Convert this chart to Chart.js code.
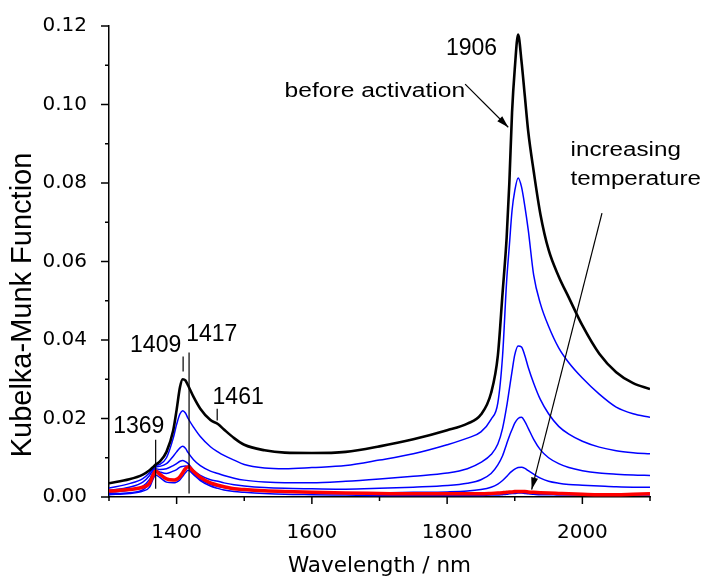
<!DOCTYPE html>
<html>
<head>
  <meta charset="UTF-8">
  <title>Kubelka-Munk</title>
  <script src="https://cdn.jsdelivr.net/npm/chart.js"></script>
  <style>
    body { margin: 0; background: #fff; }
    canvas { display: block; }
  </style>
</head>
<body>
  <canvas id="km" width="704" height="579"></canvas>

  <script>
    // wavelength grid (nm), denser round the peaks
    const wavelength = [1300, 1330, 1350, 1360, 1365, 1369, 1375, 1385, 1395, 1400,
      1405, 1409, 1413, 1417, 1425, 1435, 1450, 1461, 1470, 1485,
      1500, 1530, 1560, 1600, 1650, 1700, 1750, 1800, 1830, 1850,
      1865, 1875, 1882, 1888, 1892, 1896, 1900, 1905, 1910, 1915,
      1920, 1928, 1938, 1950, 1965, 1980, 2000, 2025, 2050, 2075, 2100];

    // before activation (black)
    const beforeActivation = [0.0035, 0.0045, 0.0057, 0.0068, 0.0076, 0.0083, 0.0090, 0.0115, 0.0170, 0.0222,
      0.0280, 0.0300, 0.0297, 0.0284, 0.0255, 0.0225, 0.0196, 0.0186, 0.0172, 0.0150,
      0.0133, 0.0119, 0.0113, 0.0112, 0.0115, 0.0129, 0.0147, 0.0170, 0.0187, 0.0210,
      0.0265, 0.0360, 0.0520, 0.0660, 0.0800, 0.0980, 0.1090, 0.1178, 0.1110, 0.1020,
      0.0930, 0.0830, 0.0720, 0.0630, 0.0562, 0.0508, 0.0437, 0.0365, 0.0318, 0.0290, 0.0275];

    // heating steps (blue), in order of increasing temperature
    const heated1 = [0.0023, 0.0034, 0.0047, 0.0062, 0.0072, 0.0080, 0.0083, 0.0100, 0.0150, 0.0185,
      0.0212, 0.0220, 0.0214, 0.0200, 0.0178, 0.0154, 0.0128, 0.0115, 0.0106, 0.0094,
      0.0083, 0.0074, 0.0072, 0.0075, 0.0080, 0.0094, 0.0110, 0.0133, 0.0150, 0.0166,
      0.0198, 0.0240, 0.0360, 0.0550, 0.0640, 0.0730, 0.0780, 0.0813, 0.0790, 0.0740,
      0.0680, 0.0565, 0.0492, 0.0435, 0.0380, 0.0342, 0.0303, 0.0262, 0.0229, 0.0212, 0.0203];

    const heated2 = [0.0017, 0.0025, 0.0038, 0.0055, 0.0068, 0.0076, 0.0078, 0.0085, 0.0104, 0.0115,
      0.0125, 0.0129, 0.0124, 0.0113, 0.0095, 0.0080, 0.0066, 0.0060, 0.0055, 0.0048,
      0.0043, 0.0038, 0.0036, 0.0036, 0.0040, 0.0046, 0.0053, 0.0061, 0.0072, 0.0088,
      0.0108, 0.0135, 0.0175, 0.0230, 0.0275, 0.0320, 0.0362, 0.0385, 0.0382, 0.0360,
      0.0330, 0.0290, 0.0248, 0.0212, 0.0180, 0.0160, 0.0142, 0.0127, 0.0118, 0.0113, 0.0110];

    const heated3 = [0.0012, 0.0018, 0.0028, 0.0045, 0.0062, 0.0072, 0.0070, 0.0072, 0.0080, 0.0085,
      0.0091, 0.0093, 0.0090, 0.0085, 0.0068, 0.0055, 0.0044, 0.0040, 0.0036, 0.0031,
      0.0028, 0.0024, 0.0022, 0.0021, 0.0020, 0.0022, 0.0025, 0.0029, 0.0035, 0.0044,
      0.0060, 0.0082, 0.0105, 0.0135, 0.0155, 0.0172, 0.0188, 0.0200, 0.0203, 0.0192,
      0.0175, 0.0147, 0.0120, 0.0100, 0.0085, 0.0075, 0.0067, 0.0061, 0.0058, 0.0056, 0.0055];

    const heated4 = [0.0008, 0.0011, 0.0018, 0.0035, 0.0058, 0.0068, 0.0064, 0.0060, 0.0066, 0.0070,
      0.0076, 0.0078, 0.0079, 0.0077, 0.0060, 0.0045, 0.0032, 0.0027, 0.0024, 0.0020,
      0.0018, 0.0015, 0.0013, 0.0012, 0.0011, 0.0011, 0.0012, 0.0013, 0.0015, 0.0019,
      0.0025, 0.0033, 0.0042, 0.0052, 0.0060, 0.0066, 0.0071, 0.0075, 0.0076, 0.0073,
      0.0067, 0.0058, 0.0048, 0.0040, 0.0035, 0.0032, 0.0030, 0.0028, 0.0026, 0.0025, 0.0025];

    const heated5 = [0.0006, 0.0009, 0.0015, 0.0025, 0.0045, 0.0056, 0.0050, 0.0038, 0.0036, 0.0038,
      0.0044, 0.0053, 0.0062, 0.0068, 0.0057, 0.0042, 0.0028, 0.0022, 0.0018, 0.0014,
      0.0012, 0.0009, 0.0007, 0.0006, 0.0005, 0.0004, 0.0004, 0.0004, 0.0004, 0.0004,
      0.0005, 0.0005, 0.0006, 0.0007, 0.0008, 0.0009, 0.0009, 0.0010, 0.0010, 0.0009,
      0.0008, 0.0007, 0.0006, 0.0006, 0.0005, 0.0005, 0.0005, 0.0005, 0.0005, 0.0005, 0.0005];

    // highest temperature (red)
    const finalStep = [0.0015, 0.0019, 0.0025, 0.0035, 0.0055, 0.0066, 0.0058, 0.0046, 0.0043, 0.0045,
      0.0052, 0.0062, 0.0072, 0.0077, 0.0065, 0.0050, 0.0036, 0.0030, 0.0026, 0.0021,
      0.0019, 0.0016, 0.0014, 0.0012, 0.0010, 0.0009, 0.0008, 0.0008, 0.0008, 0.0008,
      0.0009, 0.0010, 0.0011, 0.0012, 0.0013, 0.0013, 0.0014, 0.0014, 0.0014, 0.0014,
      0.0013, 0.0012, 0.0011, 0.0010, 0.0009, 0.0008, 0.0007, 0.0006, 0.0006, 0.0007, 0.0008];

    const xTickLabels = [1400, 1600, 1800, 2000];

    function pts(values) {
      return wavelength.map((w, i) => ({ x: w, y: values[i] }));
    }

    function curve(values, color, width) {
      return {
        data: pts(values),
        borderColor: color,
        borderWidth: width,
        pointRadius: 0,
        fill: false,
        cubicInterpolationMode: 'monotone'
      };
    }

    // text with optional horizontal stretch
    function txt(ctx, s, x, y, size, stretch, align) {
      ctx.save();
      ctx.font = size + 'px "Liberation Sans", Arial, sans-serif';
      ctx.translate(x, y);
      ctx.scale(stretch, 1);
      ctx.textAlign = align;
      ctx.textBaseline = 'alphabetic';
      ctx.fillText(s, 0, 0);
      ctx.restore();
    }

    function line(ctx, x1, y1, x2, y2) {
      ctx.beginPath();
      ctx.moveTo(x1, y1);
      ctx.lineTo(x2, y2);
      ctx.stroke();
    }

    function arrow(ctx, x1, y1, x2, y2) {
      line(ctx, x1, y1, x2, y2);
      const a = Math.atan2(y2 - y1, x2 - x1);
      const len = 12, hw = 3.5;
      ctx.beginPath();
      ctx.moveTo(x2, y2);
      ctx.lineTo(x2 - len * Math.cos(a) + hw * Math.sin(a), y2 - len * Math.sin(a) - hw * Math.cos(a));
      ctx.lineTo(x2 - len * Math.cos(a) - hw * Math.sin(a), y2 - len * Math.sin(a) + hw * Math.cos(a));
      ctx.closePath();
      ctx.fill();
    }

    // tick marks (major/minor), y title and the annotations
    const decorations = {
      id: 'decorations',
      afterDraw(chart) {
        const ctx = chart.ctx;
        const xs = chart.scales.x, ys = chart.scales.y;
        const X = v => xs.getPixelForValue(v);
        const Y = v => ys.getPixelForValue(v);
        const area = chart.chartArea;

        ctx.save();
        ctx.strokeStyle = '#000';
        ctx.fillStyle = '#000';
        ctx.lineWidth = 1.5;

        xs.ticks.forEach(t => {
          const len = t.value % 200 === 0 ? 7 : 4;
          line(ctx, X(t.value), area.bottom, X(t.value), area.bottom + len);
        });
        ys.ticks.forEach(t => {
          const len = Math.round(t.value * 100) % 2 === 0 ? 8 : 4;
          line(ctx, area.left - len, Y(t.value), area.left, Y(t.value));
        });

        // y axis title
        ctx.save();
        ctx.translate(23, 305);
        ctx.rotate(-Math.PI / 2);
        ctx.font = '29px "Liberation Sans", Arial, sans-serif';
        ctx.textAlign = 'center';
        ctx.textBaseline = 'middle';
        ctx.fillText('Kubelka-Munk Function', 0, 0);
        ctx.restore();

        // peak labels
        ctx.lineWidth = 1.2;
        txt(ctx, '1369', X(1344), Y(0.0162), 23, 1, 'center');
        line(ctx, X(1369), Y(0.0146), X(1369), Y(0.0021));
        txt(ctx, '1409', X(1369), Y(0.0370), 23, 1, 'center');
        line(ctx, X(1409.6), Y(0.0358), X(1409.6), Y(0.0320));
        txt(ctx, '1417', X(1452), Y(0.0398), 23, 1, 'center');
        line(ctx, X(1418.4), Y(0.0368), X(1418.4), Y(0.0009));
        txt(ctx, '1461', X(1491), Y(0.0237), 23, 1, 'center');
        line(ctx, X(1460), Y(0.0225), X(1460), Y(0.0195));
        txt(ctx, '1906', X(1836), Y(0.1127), 23, 1, 'center');

        txt(ctx, 'before activation', X(1559.6), Y(0.1018), 20, 1.23, 'left');
        arrow(ctx, X(1826.6), Y(0.1052), X(1890.4), Y(0.0942));

        txt(ctx, 'increasing', X(1982.5), Y(0.0868), 20, 1.21, 'left');
        txt(ctx, 'temperature', X(1982.5), Y(0.0795), 20, 1.21, 'left');
        arrow(ctx, X(2029), Y(0.0723), X(1925), Y(0.0019));

        ctx.restore();
      }
    };

    new Chart(document.getElementById('km'), {
      type: 'line',
      data: {
        datasets: [
          curve(beforeActivation, '#000000', 2.6),
          curve(finalStep, '#ff0000', 3.5),
          curve(heated1, '#0000ff', 1.5),
          curve(heated2, '#0000ff', 1.5),
          curve(heated3, '#0000ff', 1.5),
          curve(heated4, '#0000ff', 1.5),
          curve(heated5, '#0000ff', 1.5)
        ]
      },
      options: {
        responsive: false,
        animation: false,
        layout: { padding: { left: 0, top: 24, right: 54, bottom: 0 } },
        plugins: { legend: { display: false }, tooltip: { enabled: false } },
        scales: {
          x: {
            type: 'linear',
            min: 1300,
            max: 2100,
            afterFit: s => { s.height = 82; },
            grid: { display: false },
            border: { display: true, color: '#000', width: 1.5 },
            ticks: {
              stepSize: 100,
              autoSkip: false,
              maxRotation: 0,
              padding: 16,
              color: '#000',
              font: { family: 'DejaVu Sans', size: 20 },
              callback: v => xTickLabels.includes(v) ? String(v) : ''
            },
            title: {
              display: true,
              text: 'Wavelength / nm',
              color: '#000',
              font: { family: 'DejaVu Sans', size: 21.5 },
              padding: { top: 0, bottom: 0 }
            }
          },
          y: {
            min: 0,
            max: 0.12,
            afterFit: s => { s.width = 109; },
            grid: { display: false },
            border: { display: true, color: '#000', width: 1.5 },
            ticks: {
              stepSize: 0.01,
              padding: 14,
              color: '#000',
              font: { family: 'DejaVu Sans', size: 20 },
              callback: v => Math.round(v * 100) % 2 === 0 ? v.toFixed(2) : ''
            }
          }
        }
      },
      plugins: [decorations]
    });
  </script>
</body>
</html>
